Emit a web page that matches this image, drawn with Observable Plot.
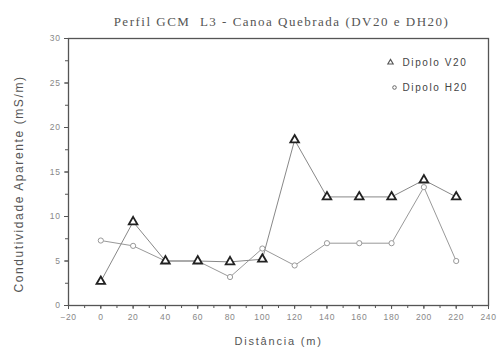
<!DOCTYPE html>
<html><head><meta charset="utf-8">
<script src="https://cdn.jsdelivr.net/npm/d3@7"></script>
<script src="https://cdn.jsdelivr.net/npm/@observablehq/plot@0.6"></script>
<style>
body{margin:0;background:#fff}
.ttl text{letter-spacing:1.5px}
.xl text{letter-spacing:1.8px}
.yl text{letter-spacing:1.6px}
.lg text{letter-spacing:1.6px}
.tk text{letter-spacing:0.6px}
</style>
</head><body><div id="chart"></div>
<script>
const distances = [0, 20, 40, 60, 80, 100, 120, 140, 160, 180, 200, 220];
const dipoloV20 = [2.7, 9.4, 5.0, 5.0, 4.9, 5.2, 18.6, 12.2, 12.2, 12.2, 14.1, 12.2];
const dipoloH20 = [7.3, 6.7, 5.0, 5.0, 3.2, 6.4, 4.5, 7.0, 7.0, 7.0, 13.3, 5.0];
const xTicks = [-20, 0, 20, 40, 60, 80, 100, 120, 140, 160, 180, 200, 220, 240];
const yTicks = [0, 5, 10, 15, 20, 25, 30];
const title = "Perfil GCM  L3 - Canoa Quebrada (DV20 e DH20)";
const xLabel = "Distância (m)";
const yLabel = "Condutividade Aparente (mS/m)";
const seriesNames = ["Dipolo V20", "Dipolo H20"];

const V = distances.map((d, i) => ({x: d, y: dipoloV20[i]}));
const H = distances.map((d, i) => ({x: d, y: dipoloH20[i]}));
const xMinor = d3.range(-20, 241, 10);
const yMinor = d3.range(0, 30.1, 2.5);

const chart = Plot.plot({
  width: 497, height: 354,
  marginLeft: 68, marginRight: 9, marginTop: 38, marginBottom: 49,
  style: {fontFamily: "Liberation Sans, Arial, sans-serif", background: "#fff"},
  x: {domain: [-20, 240]},
  y: {domain: [0, 30]},
  marks: [
    Plot.frame({stroke: "#555", strokeWidth: 1.3}),
    Plot.axisX(xMinor, {tickSize: 3, tickFormat: () => "", stroke: "#555", label: null}),
    Plot.axisX(xTicks, {tickSize: 4, tickPadding: 4, fontSize: 8.5, fill: "#888", stroke: "#555", label: null, className: "tk"}),
    Plot.axisY(yMinor, {tickSize: 3, tickFormat: () => "", stroke: "#555", label: null}),
    Plot.axisY(yTicks, {tickSize: 4, tickPadding: 4, fontSize: 8.5, fill: "#888", stroke: "#555", label: null, className: "tk"}),
    Plot.text([xLabel], {frameAnchor: "bottom", dy: 39, fontSize: 11, fill: "#555", className: "xl"}),
    Plot.text([yLabel], {frameAnchor: "left", textAnchor: "middle", lineAnchor: "middle", dx: -49, dy: 12, rotate: -90, fontSize: 12, fill: "#555", className: "yl"}),
    Plot.text([title], {frameAnchor: "top", dx: 3, dy: -22, fontSize: 13, fill: "#555", fontFamily: "Liberation Serif, Times New Roman, serif", className: "ttl"}),
    Plot.line(H, {x: "x", y: "y", stroke: "#999", strokeWidth: 1}),
    Plot.line(V, {x: "x", y: "y", stroke: "#888", strokeWidth: 1}),
    Plot.dot(H, {x: "x", y: "y", r: 2.6, stroke: "#999", fill: "#fff", strokeWidth: 1}),
    Plot.dot(V, {x: "x", y: "y", symbol: "triangle", r: 3.2, stroke: "#222", fill: "#fff", strokeWidth: 1.8}),
    Plot.dot([0], {frameAnchor: "top-right", dx: -98, dy: 24, symbol: "triangle", r: 2, stroke: "#555", fill: "#fff", strokeWidth: 1.1}),
    Plot.dot([0], {frameAnchor: "top-right", dx: -94, dy: 49, r: 1.8, stroke: "#666", fill: "#fff", strokeWidth: 1}),
    Plot.text([seriesNames[0]], {frameAnchor: "top-right", dx: -86, dy: 24, textAnchor: "start", lineAnchor: "middle", fontSize: 10, fill: "#444", className: "lg"}),
    Plot.text([seriesNames[1]], {frameAnchor: "top-right", dx: -86, dy: 49, textAnchor: "start", lineAnchor: "middle", fontSize: 10, fill: "#444", className: "lg"})
  ]
});
document.getElementById("chart").appendChild(chart);
</script></body></html>
